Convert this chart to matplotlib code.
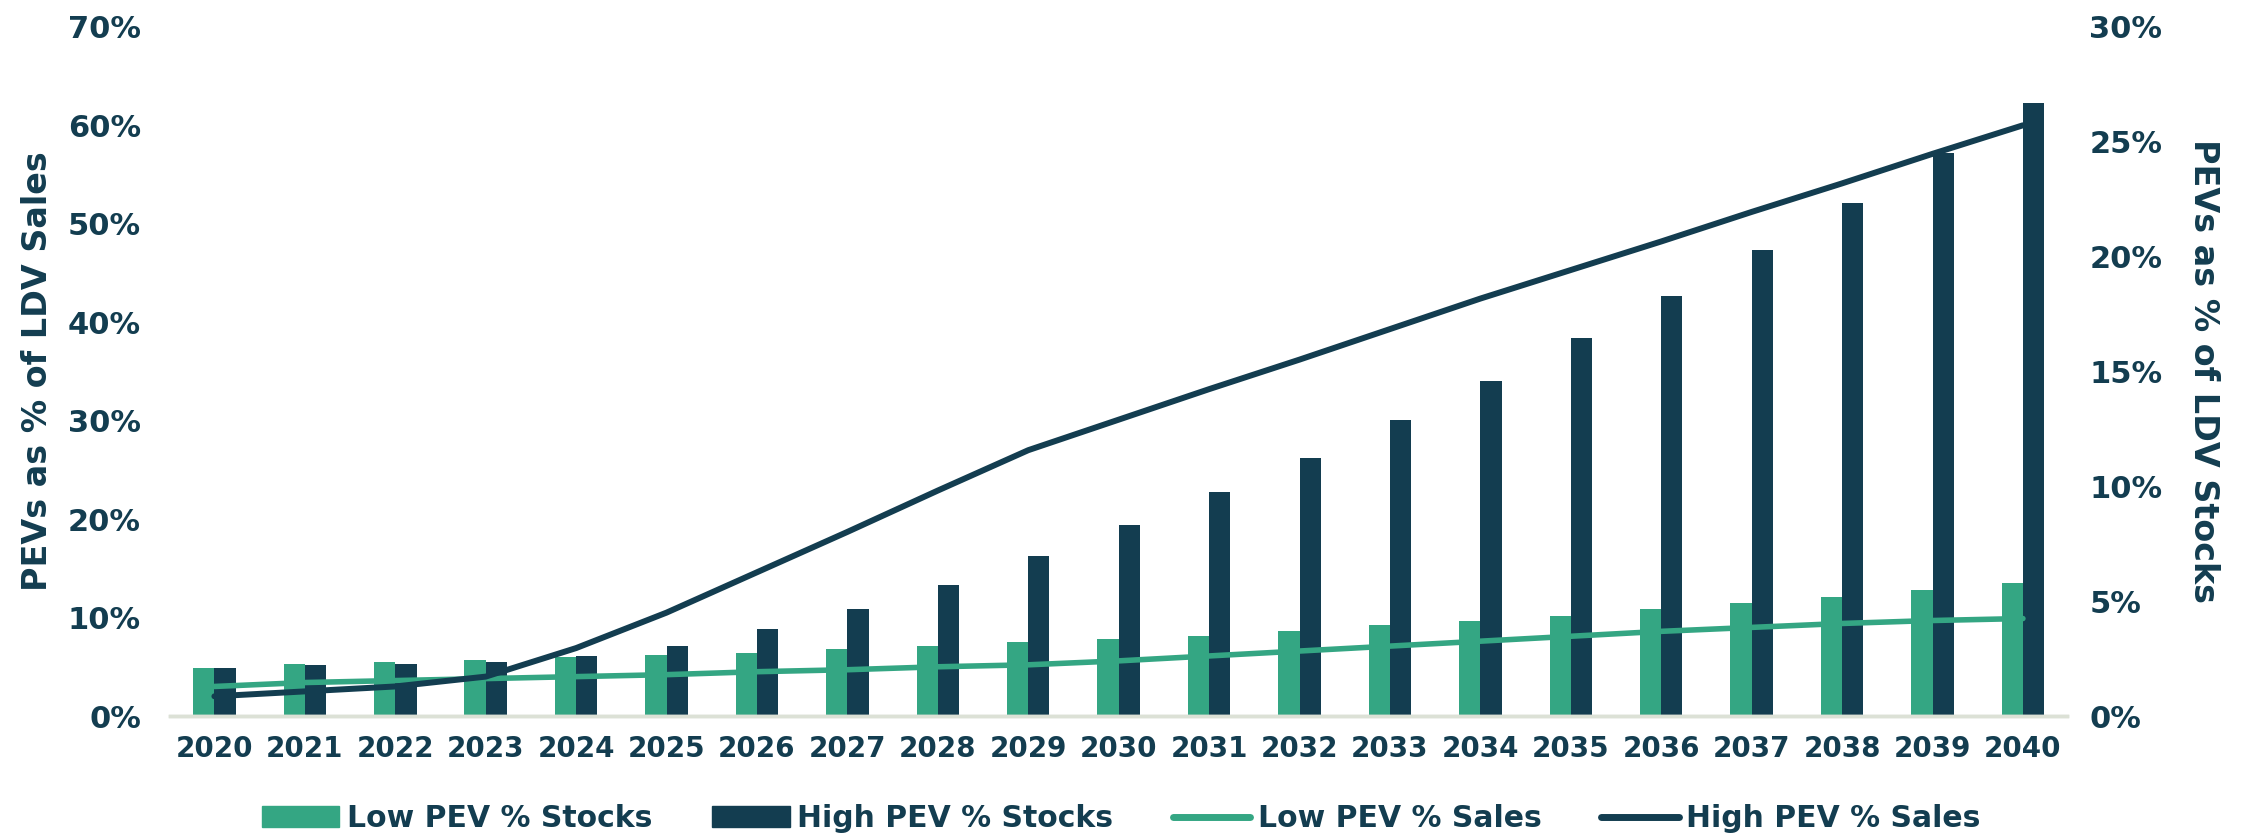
import matplotlib
matplotlib.use('Agg')
import matplotlib.pyplot as plt
from matplotlib.ticker import FuncFormatter, MultipleLocator
from matplotlib.patches import Patch
from matplotlib.lines import Line2D
import numpy as np

years = [str(y) for y in range(2020, 2041)]

# stocks (right axis, %)
low_stocks = [2.1, 2.25, 2.35, 2.45, 2.55, 2.65, 2.75, 2.9, 3.05, 3.2, 3.35, 3.5,
              3.7, 3.95, 4.15, 4.35, 4.65, 4.9, 5.2, 5.5, 5.8]
high_stocks = [2.1, 2.2, 2.25, 2.35, 2.6, 3.05, 3.8, 4.65, 5.7, 6.95, 8.3, 9.75,
               11.25, 12.9, 14.6, 16.45, 18.3, 20.3, 22.35, 24.5, 26.7]

# sales (left axis, %)
low_sales = [3.0, 3.4, 3.6, 3.8, 4.0, 4.2, 4.5, 4.7, 5.0, 5.2, 5.6, 6.1, 6.6,
             7.1, 7.6, 8.1, 8.6, 9.0, 9.4, 9.7, 9.9]
high_sales = [2.0, 2.5, 3.0, 4.0, 6.9, 10.5, 14.6, 18.7, 22.9, 27.0, 30.1, 33.2,
              36.2, 39.3, 42.4, 45.3, 48.2, 51.2, 54.1, 57.1, 60.0]

DARK = "#133D50"
GREEN = "#34A683"
BASE = "#DCE1D6"

plt.rcParams['font.family'] = 'DejaVu Sans'
plt.rcParams['font.weight'] = 'bold'

fig = plt.figure(figsize=(22.47, 8.39), dpi=100)
ax = fig.add_axes([0.0757, 0.1466, 0.8443, 0.8214])
ax2 = ax.twinx()

x = np.arange(len(years))
w = 0.235
ax2.bar(x - w / 2, low_stocks, width=w, color=GREEN, zorder=2)
ax2.bar(x + w / 2, high_stocks, width=w, color=DARK, zorder=2)

ax.plot(x, low_sales, color=GREEN, lw=4, solid_capstyle='round', zorder=3)
ax.plot(x, high_sales, color=DARK, lw=4.3, solid_capstyle='round', zorder=3)

ax.set_zorder(ax2.get_zorder() + 1)
ax.patch.set_visible(False)

ax.set_xlim(-0.49, 20.49)
ax.set_ylim(0, 70)
ax2.set_ylim(0, 30)
ax.yaxis.set_major_locator(MultipleLocator(10))
ax2.yaxis.set_major_locator(MultipleLocator(5))
pct = FuncFormatter(lambda v, p: f"{v:.0f}%")
ax.yaxis.set_major_formatter(pct)
ax2.yaxis.set_major_formatter(pct)

ax.set_xticks(x)
ax.set_xticklabels(years)

for a in (ax, ax2):
    for s in ('top', 'left', 'right'):
        a.spines[s].set_visible(False)
    a.spines['bottom'].set_color(BASE)
    a.spines['bottom'].set_linewidth(2.5)
    a.tick_params(length=0, labelcolor=DARK)

ax.tick_params(axis='y', pad=21, labelsize=22)
ax2.tick_params(axis='y', pad=16, labelsize=22)
ax.tick_params(axis='x', pad=14, labelsize=20)

ax.set_ylabel("PEVs as % of LDV Sales", fontsize=24, color=DARK,
              fontweight='bold', labelpad=10)
ax2.set_ylabel("PEVs as % of LDV Stocks", fontsize=24, color=DARK,
               fontweight='bold', rotation=270, labelpad=41)

handles = [
    Patch(color=GREEN, label="Low PEV % Stocks"),
    Patch(color=DARK, label="High PEV % Stocks"),
    Line2D([0], [0], color=GREEN, lw=5, solid_capstyle='round', label="Low PEV % Sales"),
    Line2D([0], [0], color=DARK, lw=5, solid_capstyle='round', label="High PEV % Sales"),
]
leg = fig.legend(handles=handles, loc='center', bbox_to_anchor=(0.499, 0.024),
                 ncol=4, frameon=False, fontsize=21.5, handlelength=2.6,
                 handletextpad=0.25, columnspacing=2.0)
for t in leg.get_texts():
    t.set_color(DARK)

plt.savefig("out.png", dpi=100, facecolor='white')
plt.close()
